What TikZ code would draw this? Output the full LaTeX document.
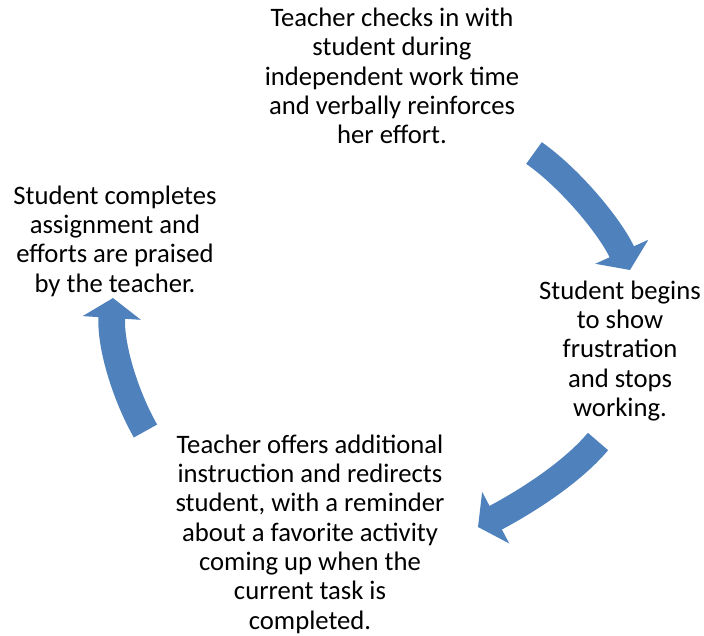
\documentclass[tikz,border=0pt]{standalone}
\usepackage{fontspec}
\setmainfont{Carlito}
\usetikzlibrary{arrows.meta}

\tikzset{every picture/.style={line width=0.75pt}}
\tikzset{
  steptext/.style={inner sep=0pt, align=center, font=\fontsize{20pt}{22pt}\selectfont},
  cyclearrow/.style={draw={rgb, 255:red, 79; green, 129; blue, 189 }, line width=20pt,
    -{Triangle[width=43pt,length=15pt]}}
}

\begin{document}
\begin{tikzpicture}[x=0.75pt,y=0.75pt,yscale=-1,xscale=1]
	\useasboundingbox (0,0) rectangle (704,636);

	% Text Node
	\node[steptext] (checks) at (392,76) {Teacher checks in with\\student during\\independent work time\\and verbally reinforces\\her effort.};
	% Text Node
	\node[steptext] (frustration) at (620,351) {Student begins\\to show\\frustration\\and stops\\working.};
	% Text Node
	\node[steptext] (redirect) at (310,534) {Teacher offers additional\\instruction and redirects\\student, with a reminder\\about a favorite activity\\coming up when the\\current task is\\completed.};
	% Text Node
	\node[steptext] (praise) at (115,241) {Student completes\\assignment and\\efforts are praised\\by the teacher.};

	%Arrow ends
	\coordinate (a1s) at (534,153);
	\coordinate (a1e) at (630,270);
	\coordinate (a2s) at (598,441.5);
	\coordinate (a2e) at (478,527);
	\coordinate (a3s) at (145.5,431);
	\coordinate (a3e) at (113,298);

	%Curve Arrow
	\draw[cyclearrow] (a1s) .. controls (571,179) and (611,228) .. (a1e);
	%Curve Arrow
	\draw[cyclearrow] (a2s) .. controls (569,476) and (518,506) .. (a2e);
	%Curve Arrow
	\draw[cyclearrow] (a3s) .. controls (125,395) and (110,345) .. (a3e);

\end{tikzpicture}
\end{document}
